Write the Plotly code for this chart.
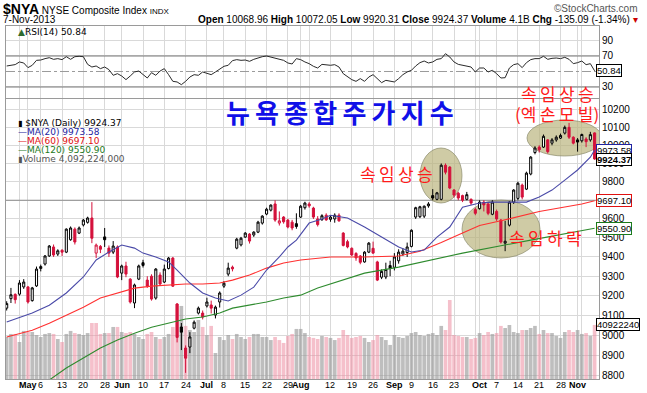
import math
import pandas as pd
import plotly.graph_objects as go

# ---------------- data ----------------
HOLIDAYS = ["2013-05-27", "2013-07-04", "2013-09-02"]
START, END = "2013-04-24", "2013-11-07"

opens = [9137, 9185, 9207, 9208, 9245, 9245, 9175, 9250, 9340, 9363, 9405, 9452, 9415, 9435, 9425, 9490, 9546, 9525, 9568, 9582,
         9605, 9420, 9455, 9505, 9446, 9425, 9452, 9316, 9353, 9285, 9163, 9285, 9370, 9280, 9300, 9188, 9306, 9270, 9340, 9394,
         9158, 9042, 8937, 8942, 9036, 9112, 9112, 9148, 9153, 9102, 9168, 9249, 9311, 9347, 9446, 9463, 9504, 9520, 9515, 9530,
         9578, 9626, 9647, 9680, 9578, 9610, 9594, 9583, 9575, 9610, 9660, 9680, 9658, 9600, 9596, 9620, 9598, 9600, 9620, 9525,
         9480, 9445, 9418, 9405, 9374, 9425, 9445, 9374, 9295, 9296, 9355, 9346, 9380, 9415, 9423, 9455, 9610, 9612, 9615, 9670,
         9725, 9705, 9705, 9890, 9880, 9755, 9738, 9725, 9705, 9705, 9650, 9655, 9690, 9680, 9625, 9640, 9594, 9472, 9567, 9690,
         9710, 9782, 9760, 9842, 9960, 9990, 9990, 10030, 10012, 10030, 10040, 10068, 10100, 10045, 10030, 10025, 10035, 10030, 10068.96]
highs = [9172, 9240, 9212, 9280, 9285, 9250, 9245, 9350, 9360, 9410, 9462, 9465, 9440, 9440, 9550, 9560, 9555, 9560, 9600, 9612,
         9690, 9470, 9462, 9552, 9460, 9483, 9460, 9360, 9375, 9290, 9262, 9360, 9385, 9300, 9310, 9342, 9320, 9360, 9400, 9400,
         9163, 9062, 8950, 9016, 9075, 9145, 9125, 9190, 9175, 9150, 9222, 9275, 9370, 9355, 9500, 9505, 9530, 9525, 9535, 9590,
         9620, 9660, 9678, 9700, 9640, 9615, 9600, 9595, 9630, 9675, 9692, 9690, 9665, 9615, 9625, 9630, 9618, 9630, 9630, 9530,
         9490, 9450, 9425, 9410, 9430, 9478, 9480, 9380, 9335, 9370, 9380, 9420, 9440, 9445, 9475, 9545, 9665, 9670, 9672, 9690,
         9760, 9745, 9900, 9900, 9885, 9760, 9745, 9730, 9745, 9710, 9660, 9700, 9700, 9690, 9700, 9650, 9600, 9590, 9695, 9760,
         9800, 9790, 9855, 9940, 9995, 10000, 10060, 10035, 10040, 10055, 10065, 10110, 10125, 10050, 10040, 10065, 10045, 10075, 10072.05]
lows = [9125, 9163, 9160, 9200, 9235, 9160, 9170, 9245, 9325, 9355, 9400, 9400, 9405, 9405, 9420, 9485, 9465, 9520, 9560, 9575,
        9472, 9394, 9420, 9452, 9400, 9415, 9290, 9280, 9295, 9160, 9137, 9280, 9345, 9240, 9175, 9180, 9250, 9265, 9335, 9245,
        8965, 8927, 8815, 8912, 9030, 9105, 9080, 9140, 9110, 9085, 9140, 9240, 9300, 9325, 9440, 9455, 9500, 9470, 9505, 9525,
        9570, 9620, 9640, 9585, 9565, 9575, 9550, 9540, 9548, 9605, 9650, 9660, 9600, 9560, 9590, 9590, 9585, 9580, 9585, 9455,
        9445, 9405, 9380, 9362, 9370, 9420, 9415, 9275, 9285, 9285, 9300, 9330, 9365, 9405, 9400, 9450, 9600, 9605, 9605, 9660,
        9700, 9700, 9700, 9840, 9760, 9715, 9700, 9690, 9700, 9675, 9620, 9650, 9640, 9620, 9620, 9590, 9470, 9430, 9560, 9680,
        9700, 9705, 9755, 9835, 9950, 9960, 9985, 9955, 10000, 10020, 10035, 10060, 10035, 10005, 9965, 10015, 9990, 10020, 9920.31]
closes = [9160, 9205, 9180, 9265, 9270, 9168, 9240, 9337, 9350, 9405, 9457, 9410, 9432, 9425, 9546, 9552, 9478, 9552, 9594, 9605,
          9498, 9462, 9440, 9490, 9420, 9457, 9296, 9353, 9311, 9168, 9255, 9353, 9356, 9249, 9183, 9337, 9260, 9337, 9394, 9249,
          8990, 9016, 8887, 8992, 9066, 9137, 9092, 9168, 9137, 9142, 9214, 9264, 9342, 9338, 9493, 9498, 9525, 9483, 9530, 9583,
          9615, 9652, 9674, 9594, 9590, 9585, 9557, 9552, 9560, 9668, 9685, 9670, 9610, 9570, 9617, 9595, 9610, 9620, 9590, 9460,
          9452, 9410, 9395, 9372, 9425, 9472, 9420, 9280, 9325, 9335, 9340, 9400, 9425, 9430, 9452, 9540, 9660, 9665, 9668, 9680,
          9712, 9740, 9890, 9852, 9766, 9728, 9712, 9700, 9730, 9685, 9630, 9690, 9675, 9630, 9690, 9600, 9478, 9482, 9690, 9755,
          9792, 9717, 9847, 9935, 9985, 9975, 10050, 9965, 10030, 10045, 10055, 10100, 10045, 10012, 10018, 10060, 10020, 10059.46, 9924.37]

volume_bn = [3.18, 3.41, 3.41, 2.80, 3.64, 3.56, 3.56, 3.33, 3.18, 3.41, 3.48, 3.41, 3.03, 2.80, 3.41, 3.64, 3.48, 3.41, 3.33, 3.48,
             4.24, 4.24, 3.41, 3.48, 3.48, 3.94, 3.94, 3.56, 3.48, 3.56, 3.41, 3.18, 3.03, 3.41, 3.56, 3.18, 3.03, 3.18, 3.41, 3.94,
             5.68, 5.53, 4.02, 3.71, 3.56, 4.47, 3.94, 3.33, 4.02, 1.97, 3.18, 2.95, 3.33, 3.03, 3.41, 3.18, 3.03, 3.18, 3.41, 3.41,
             3.18, 3.18, 2.95, 3.18, 2.95, 2.73, 3.26, 3.41, 3.79, 3.79, 3.48, 3.18, 3.11, 3.03, 3.26, 3.18, 3.11, 2.95, 3.11, 3.71,
             3.33, 3.11, 3.18, 3.26, 3.11, 2.80, 2.95, 3.33, 3.18, 2.95, 2.58, 3.33, 3.18, 3.11, 3.26, 3.48, 3.56, 3.33, 3.26, 3.41,
             3.48, 3.33, 4.02, 3.71, 5.98, 3.33, 3.26, 3.18, 3.18, 3.03, 3.11, 3.48, 3.33, 3.56, 3.41, 3.48, 4.02, 3.86, 4.09, 3.56,
             3.48, 3.71, 3.71, 3.86, 4.02, 3.41, 3.71, 3.48, 3.48, 3.26, 3.11, 3.56, 3.71, 3.56, 3.71, 3.41, 3.48, 3.26, 4.092224]

rsi14 = [57.1, 58, 58.9, 62.3, 61, 55, 58, 64.4, 64.8, 66.6, 67.8, 65.7, 66.6, 65.3, 69.1, 65.7, 69.1, 69.6, 69.1, 59.2,
         55.8, 57.1, 53.7, 55.8, 52.4, 45.1, 47.2, 44.2, 39.5, 44.2, 49.4, 50.6, 45.9, 41.6, 48.5, 45.1, 50.6, 53.7, 45.9, 37.3,
         36.5, 33, 37.3, 42.9, 45.9, 45.1, 49.4, 48.1, 45.9, 49.4, 52.8, 56.7, 58, 64, 65.3, 64.4, 64.8, 63.1, 65.7, 67.8,
         69.1, 70, 68.7, 66.6, 65.7, 64.4, 61, 59.7, 66.6, 65.3, 62.3, 60.1, 56.7, 54.5, 59.2, 58.8, 58, 58.8, 55.8, 47.2,
         43.8, 39.5, 37.3, 40.8, 37.3, 42.9, 45.9, 40.8, 35.6, 38.6, 37.3, 36.5, 40.8, 45.9, 49.4, 51.5, 57.1, 61.4, 63.5, 61,
         62.3, 65.7, 66.6, 73, 68.7, 62.3, 59.2, 58, 57.1, 55.8, 49.4, 54.5, 54.5, 49.4, 51.5, 47.2, 41.6, 42, 54.5, 58.8,
         60.1, 55, 61.4, 65.3, 66.6, 66.6, 69.6, 65.7, 67, 67.4, 66.6, 68.3, 65.7, 60.1, 61.4, 63.5, 58.8, 60.1, 50.84]

ma20_dates = ["2013-04-24", "2013-05-02", "2013-05-08", "2013-05-14", "2013-05-20", "2013-05-23", "2013-05-29", "2013-06-03",
              "2013-06-06", "2013-06-10", "2013-06-13", "2013-06-18", "2013-06-20", "2013-06-25", "2013-06-28", "2013-07-03",
              "2013-07-09", "2013-07-12", "2013-07-17", "2013-07-22", "2013-07-25", "2013-07-29", "2013-07-31", "2013-08-05",
              "2013-08-08", "2013-08-12", "2013-08-16", "2013-08-22", "2013-08-28", "2013-09-04", "2013-09-09", "2013-09-12",
              "2013-09-17", "2013-09-20", "2013-09-25", "2013-10-01", "2013-10-04", "2013-10-10", "2013-10-16", "2013-10-21",
              "2013-10-24", "2013-10-29", "2013-11-01", "2013-11-06", "2013-11-07"]
ma20_vals = [9067, 9112, 9152, 9214, 9296, 9384, 9426, 9462, 9446, 9420, 9400, 9374, 9332, 9265, 9214, 9188, 9173, 9203, 9244,
             9332, 9400, 9452, 9488, 9578, 9600, 9620, 9605, 9557, 9504, 9452, 9426, 9436, 9504, 9557, 9663, 9685, 9690, 9690,
             9690, 9717, 9755, 9809, 9864, 9934, 9973.58]

ma60_dates = ["2013-04-24", "2013-05-02", "2013-05-08", "2013-05-14", "2013-05-20", "2013-05-24", "2013-05-31", "2013-06-06",
              "2013-06-12", "2013-06-18", "2013-06-24", "2013-06-28", "2013-07-05", "2013-07-10", "2013-07-16", "2013-07-22",
              "2013-07-26", "2013-08-01", "2013-08-07", "2013-08-12", "2013-08-22", "2013-09-04", "2013-09-11", "2013-09-18",
              "2013-09-25", "2013-10-01", "2013-10-08", "2013-10-15", "2013-10-21", "2013-10-28", "2013-11-04", "2013-11-07"]
ma60_vals = [8992, 9026, 9061, 9102, 9142, 9188, 9214, 9239, 9249, 9254, 9260, 9260, 9265, 9280, 9306, 9342, 9368, 9384, 9394,
             9400, 9400, 9405, 9430, 9475, 9525, 9565, 9590, 9620, 9640, 9660, 9680, 9697.10]

ma120_dates = ["2013-05-06", "2013-05-08", "2013-05-14", "2013-05-20", "2013-05-24", "2013-05-31", "2013-06-06", "2013-06-12",
               "2013-06-18", "2013-06-24", "2013-06-28", "2013-07-05", "2013-07-10", "2013-07-16", "2013-07-22", "2013-07-26",
               "2013-08-01", "2013-08-07", "2013-08-12", "2013-08-22", "2013-09-04", "2013-09-25", "2013-10-17", "2013-11-07"]
ma120_vals = [8760, 8780, 8839, 8888, 8937, 8977, 9011, 9041, 9061, 9082, 9092, 9112, 9137, 9152, 9168, 9188, 9203, 9239, 9260,
              9316, 9347, 9420, 9488, 9550.90]

price_ticks = [8800, 8900, 9000, 9100, 9200, 9300, 9400, 9500, 9600, 9700, 9800, 9900, 10000, 10100, 10200]
rsi_ticks = [30, 70, 90]

# ---------------- geometry helpers ----------------
W, H = 647, 393
ML, MR, MT, MB = 6, 48, 26, 14
PW, PH = W - ML - MR, H - MT - MB


def px(xp):
    return (xp - ML) / PW


def py(yp):
    return (H - MB - yp) / PH


PRICE_LO, PRICE_HI = 8785, 10260
RSI_LO, RSI_HI = 15.8, 108.7
VOL_HI = 21.2
X_LO, X_HI = -0.16, 139.03
PRICE_TOP_PX = 99

days = [d for d in pd.bdate_range(START, END) if d.strftime("%Y-%m-%d") not in HOLIDAYS]
n = len(days)
assert n == len(opens) == len(highs) == len(lows) == len(closes) == len(volume_bn) == len(rsi14)
pos = {d.strftime("%Y-%m-%d"): k for k, d in enumerate(days)}
xs = list(range(n))


def xdata(xp):
    return X_LO + (xp - ML) / PW * (X_HI - X_LO)


def vdata(yp):
    return (H - MB - yp) / (H - MB - PRICE_TOP_PX) * VOL_HI


def price_to_v(p):
    lo, hi = math.log10(PRICE_LO), math.log10(PRICE_HI)
    return (math.log10(p) - lo) / (hi - lo) * VOL_HI


month_starts = [k for k in range(1, n) if days[k].month != days[k - 1].month]
week_starts = [k for k in range(1, n) if days[k].weekday() < days[k - 1].weekday()]
tickvals, ticktext = [], []
for k in sorted(set(month_starts) | set(week_starts)):
    tickvals.append(k)
    if k in month_starts:
        ticktext.append("<b>" + days[k].strftime("%b") + "</b>")
    elif min(abs(k - m) for m in month_starts) <= 2:
        ticktext.append("")
    else:
        ticktext.append(str(days[k].day))

up_vs_prev = [True] + [closes[k] >= closes[k - 1] for k in range(1, n)]
RED = "#d4113b"
FONT = "Liberation Sans"

fig = go.Figure()

vol_colors = ["rgba(150,150,150,0.62)" if u else "rgba(236,140,160,0.55)" for u in up_vs_prev]
fig.add_trace(go.Bar(x=xs, y=volume_bn, marker=dict(color=vol_colors, line=dict(width=0)), width=0.86,
                     xaxis="x", yaxis="y", showlegend=False, hoverinfo="skip"))


def candles(sel, color, fill_up, fill_dn):
    return go.Candlestick(
        x=[xs[k] for k in sel], open=[opens[k] for k in sel], high=[highs[k] for k in sel],
        low=[lows[k] for k in sel], close=[closes[k] for k in sel],
        increasing=dict(line=dict(color=color, width=1), fillcolor=fill_up),
        decreasing=dict(line=dict(color=color, width=1), fillcolor=fill_dn),
        whiskerwidth=0, xaxis="x", yaxis="y3", showlegend=False, hoverinfo="skip")


for dts, vals, col in [(ma120_dates, ma120_vals, "#2e8b2e"), (ma60_dates, ma60_vals, "#ff3030"),
                       (ma20_dates, ma20_vals, "#4a4aa8")]:
    fig.add_trace(go.Scatter(x=[pos[d] for d in dts], y=vals, mode="lines", line=dict(color=col, width=1.1),
                             xaxis="x", yaxis="y3", showlegend=False, hoverinfo="skip"))

fig.add_trace(candles([k for k in range(n) if up_vs_prev[k]], "#000000", "#ffffff", "#000000"))
fig.add_trace(candles([k for k in range(n) if not up_vs_prev[k]], RED, "#ffffff", RED))

fig.add_trace(go.Scatter(x=xs, y=rsi14, mode="lines", line=dict(color="#2a2a2a", width=1),
                         xaxis="x2", yaxis="y2", showlegend=False, hoverinfo="skip"))

GRID = "#d9d9d9"
AX = dict(showline=True, mirror=True, linecolor="#9a9a9a", linewidth=1, zeroline=False, fixedrange=True)
price_dom = [0, py(PRICE_TOP_PX)]
rsi_dom = [py(98), 1]

fig.update_layout(
    width=W, height=H, margin=dict(l=ML, r=MR, t=MT, b=MB),
    paper_bgcolor="white", plot_bgcolor="white", showlegend=False,
    font=dict(family=FONT, size=10, color="black"),
    boxmode="overlay",
    xaxis=dict(domain=[0, 1], anchor="y", range=[X_LO, X_HI], tickmode="array", tickvals=tickvals,
               showticklabels=False, showgrid=True, gridcolor=GRID, gridwidth=1, ticks="",
               rangeslider=dict(visible=False), **AX),
    yaxis=dict(domain=price_dom, anchor="x", range=[0, VOL_HI], showgrid=False, showticklabels=False, ticks="",
               showline=False, zeroline=False, fixedrange=True),
    yaxis3=dict(domain=price_dom, anchor="x", overlaying="y", side="right", type="log",
                range=[math.log10(PRICE_LO), math.log10(PRICE_HI)], tickmode="array", tickvals=price_ticks,
                ticktext=[str(v) for v in price_ticks], showgrid=True, gridcolor=GRID, ticks="",
                tickfont=dict(size=10, family=FONT), **AX),
    xaxis2=dict(domain=[0, 1], anchor="y2", matches="x", range=[X_LO, X_HI], tickmode="array",
                tickvals=tickvals, showticklabels=False, showgrid=True, gridcolor=GRID, ticks="",
                rangeslider=dict(visible=False), **AX),
    yaxis2=dict(domain=rsi_dom, anchor="x2", side="right", range=[RSI_LO, RSI_HI], tickmode="array",
                tickvals=rsi_ticks, showgrid=True, gridcolor=GRID, ticks="", tickfont=dict(size=10, family=FONT), **AX),
)

shapes = []
for lvl in (70, 30):
    shapes.append(dict(type="line", xref="x2", yref="y2", x0=X_LO, x1=X_HI, y0=lvl, y1=lvl,
                       line=dict(color="#7a7a7a", width=1.2), layer="between"))
shapes.append(dict(type="line", xref="x2", yref="y2", x0=X_LO, x1=X_HI, y0=50, y1=50,
                   line=dict(color="#9a9a9a", width=1, dash="dashdot"), layer="between"))
shapes.append(dict(type="line", xref="x", yref="y", x0=X_LO, x1=X_HI, y0=price_to_v(9700), y1=price_to_v(9700),
                   line=dict(color="#8c8c8c", width=1), layer="between"))
OVAL_FILL = "rgba(184,178,122,0.68)"
OVAL_LINE = "rgba(140,140,110,0.7)"
for (x0, x1, y0, y1) in [(420, 462, 148, 203), (462, 540, 200, 258), (527, 602, 120, 156)]:
    shapes.append(dict(type="circle", xref="x", yref="y", x0=xdata(x0), x1=xdata(x1), y0=vdata(y1), y1=vdata(y0),
                       fillcolor=OVAL_FILL, line=dict(color=OVAL_LINE, width=1), layer="between"))
fig.update_layout(shapes=shapes)

ann = []


def text(xp, yp, s, size=10, color="black", anchor="left", family=FONT, yanchor="middle"):
    ann.append(dict(x=px(xp), y=py(yp), xref="paper", yref="paper", text=s, showarrow=False, xanchor=anchor,
                    yanchor=yanchor, font=dict(size=size, color=color, family=family)))


for k, t in zip(tickvals, ticktext):
    if t:
        ann.append(dict(x=k, xref="x", y=py(385), yref="paper", text=t, showarrow=False, xanchor="center",
                        yanchor="middle", font=dict(size=9, family=FONT, color="black")))

text(1, 9, "<b><span style='font-size:14px'>$NYA</span></b> NYSE Composite Index <span style='font-size:8px'>INDX</span>",
     size=10)
text(1, 20, "7-Nov-2013", size=10)
text(640, 9, "©StockCharts.com", size=10, color="#555555", anchor="right")
text(640, 20, "<b>Open</b> 10068.96 <b>High</b> 10072.05 <b>Low</b> 9920.31 <b>Close</b> 9924.37 "
              "<b>Volume</b> 4.1B <b>Chg</b> -135.09 (-1.34%) <span style='color:#cc0000'>▾</span>", size=10,
     anchor="right")

LEG = "DejaVu Sans"
text(16, 32, "<span style='color:#2e6b2e'>▲</span>RSI(14) 50.84", size=9, family=LEG)
text(16, 123, "<span style='font-size:8px'>▮</span> $NYA (Daily) 9924.37", size=9, family=LEG)
text(16, 132, "—MA(20) 9973.58", size=9, color="#2323a0", family=LEG)
text(16, 141, "—MA(60) 9697.10", size=9, color="#e01010", family=LEG)
text(16, 150, "—MA(120) 9550.90", size=9, color="#1c7a1c", family=LEG)
text(16, 159, "<span style='font-size:8px'>▮</span>Volume 4,092,224,000", size=9, color="#555555", family=LEG)

KR = "Noto Sans CJK KR"
THIN = "\u2009"
text(340, 111, "<b>" + THIN.join("뉴욕종합주가지수") + "</b>", size=26, color="#1010e8", anchor="center", family=KR)
text(396, 173, THIN.join("속임상승"), size=17, color="#ff1a1a", anchor="center", family=KR)
text(557, 94, THIN.join("속임상승"), size=17, color="#ff1a1a", anchor="center", family=KR)
text(557, 113, "(" + THIN.join("엑손모빌") + ")", size=17, color="#ff1a1a", anchor="center", family=KR)
text(545, 237, THIN.join("속임하락"), size=17, color="#ff1a1a", anchor="center", family=KR)


def tag(val, yref, yval, border, bold=False):
    s = ("<b>%s</b>" % val) if bold else val
    ann.append(dict(x=1, xref="paper", y=yval, yref=yref, text=s, showarrow=False, xanchor="left", yanchor="middle",
                    xshift=-3, bgcolor="white", bordercolor=border, borderwidth=1, borderpad=0,
                    font=dict(size=9.5, color="black", family=FONT)))


tag("9973.58", "y3", math.log10(ma20_vals[-1]), "#2323a0")
tag("9924.37", "y3", math.log10(closes[-1]), "#000000", bold=True)
tag("9697.10", "y3", math.log10(ma60_vals[-1]), "#e01010")
tag("9550.90", "y3", math.log10(ma120_vals[-1]), "#1c7a1c")
tag("40922240", "y", volume_bn[-1], "#000000")
tag("50.84", "y2", rsi14[-1], "#000000")

fig.update_layout(annotations=ann)
fig.write_html("out.html", config={"displayModeBar": False},
               post_script="document.body.style.margin='0px';document.body.style.overflow='hidden';")
